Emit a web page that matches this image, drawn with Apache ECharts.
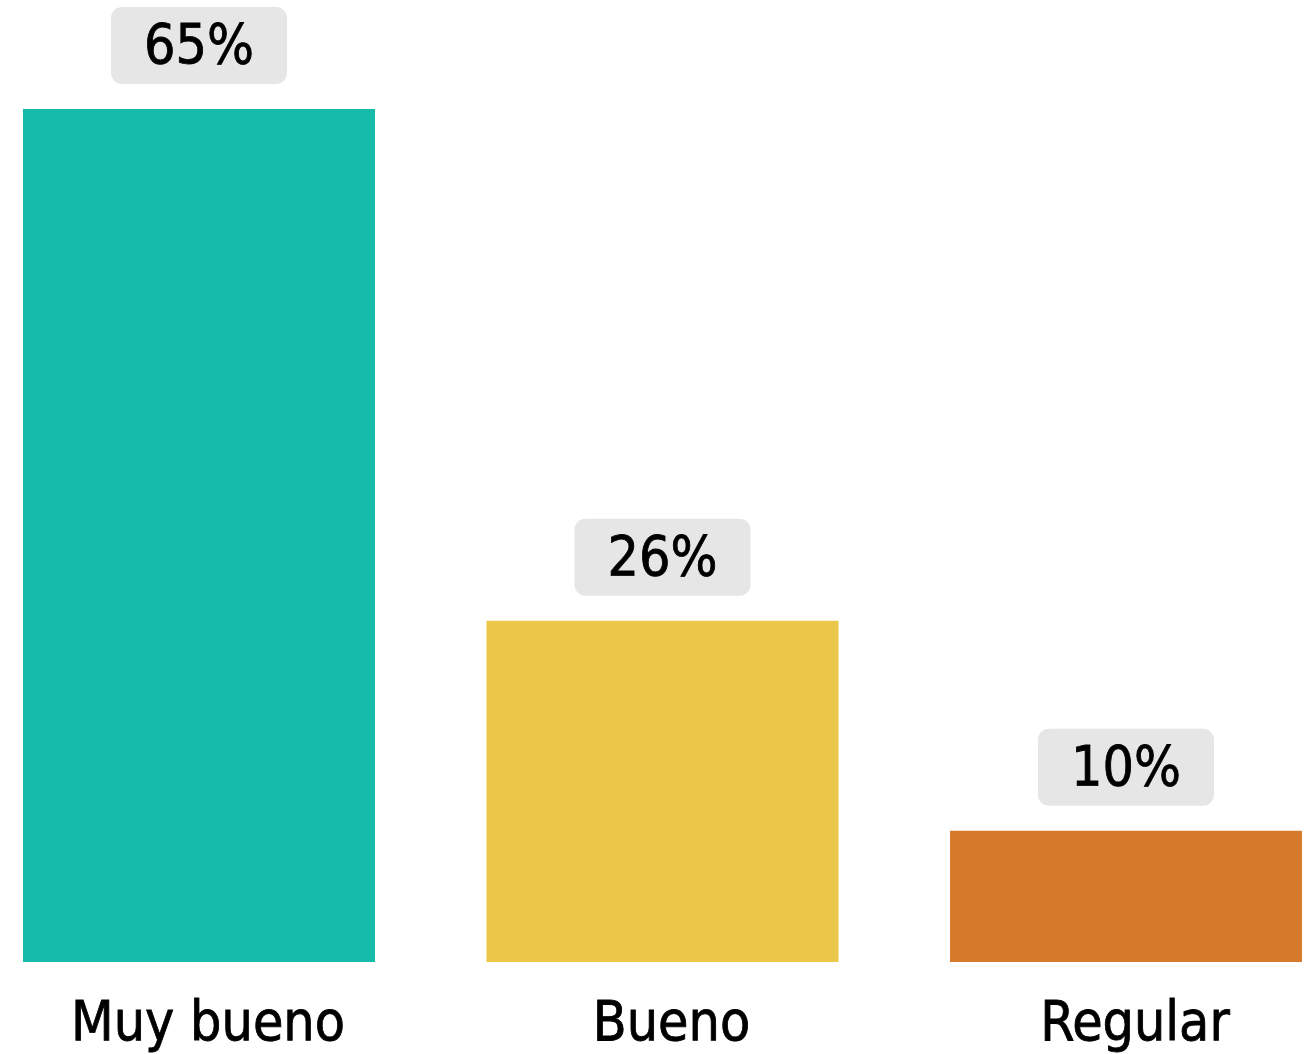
<!DOCTYPE html>
<html>
<head>
<meta charset="utf-8">
<script src="https://cdn.jsdelivr.net/npm/echarts@6/dist/echarts.min.js"></script>
<style>
html,body{margin:0;padding:0;background:#fff;}
#main{width:1314px;height:1054px;}
</style>
</head>
<body>
<div id="main"></div>
<script>
var categorias = ['Muy bueno', 'Bueno', 'Regular'];
var valores = [65, 26, 10];
var etiquetas = ['65%', '26%', '10%'];
var colores = ['#16bba9', '#ebc74a', '#d67a2b'];

var fuente = '"DejaVu Sans Condensed", "DejaVu Sans", Roboto, sans-serif';
var chart = echarts.init(document.getElementById('main'));

var datos = [];
for (var i = 0; i < valores.length; i++) {
	datos.push({value: valores[i], itemStyle: {color: colores[i]}});
}

// categorias en los extremos de la rejilla (boundaryGap false), ancho fijo
var option = {
	animation: false,
	grid: {left: 199, right: 188, top: 109, bottom: 92, containLabel: false},
	xAxis: {
		type: 'category',
		data: categorias,
		boundaryGap: false,
		axisLine: {show: false},
		axisTick: {show: false},
		splitLine: {show: false},
		axisLabel: {
			color: '#000',
			fontFamily: fuente,
			fontSize: 55,
			margin: 36,
			padding: [0, 0, 0, 18],
			textBorderColor: '#000',
			textBorderWidth: 0.8,
			interval: 0
		}
	},
	yAxis: {
		type: 'value',
		min: 0,
		max: 65,
		show: false,
		splitLine: {show: false}
	},
	series: [{
		type: 'bar',
		data: datos,
		barWidth: 352,
		clip: false,
		label: {
			show: true,
			position: 'top',
			distance: 25,
			formatter: function(p){ return etiquetas[p.dataIndex]; },
			color: '#000',
			fontFamily: fuente,
			fontSize: 55,
			lineHeight: 56,
			textBorderColor: '#000',
			textBorderWidth: 0.8,
			backgroundColor: '#e6e6e6',
			borderRadius: 11,
			padding: [14, 33, 7, 33]
		}
	}]
};
chart.setOption(option, true);
</script>
</body>
</html>
